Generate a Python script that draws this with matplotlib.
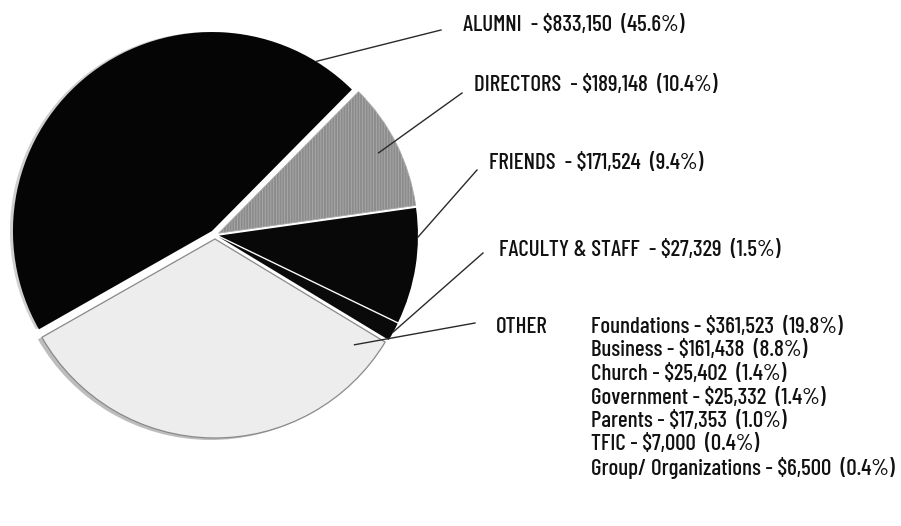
"""Gift sources pie: exploded pie with leader lines and a sub-list for OTHER."""
import matplotlib

matplotlib.use("Agg")
import matplotlib.pyplot as plt
import numpy as np
from matplotlib import font_manager
from matplotlib.patches import Wedge

# ---- data -------------------------------------------------------------------
main_labels = ["ALUMNI", "DIRECTORS", "FRIENDS", "FACULTY & STAFF"]
main_amounts = [833150, 189148, 171524, 27329]
main_pcts = [45.6, 10.4, 9.4, 1.5]

other_labels = ["Foundations", "Business", "Church", "Government",
                "Parents", "TFIC", "Group/ Organizations"]
other_amounts = [361523, 161438, 25402, 25332, 17353, 7000, 6500]
other_pcts = [19.8, 8.8, 1.4, 1.4, 1.0, 0.4, 0.4]

# ---- style ------------------------------------------------------------------
names = {f.name for f in font_manager.fontManager.ttflist}
family = next((f for f in ["Barlow Condensed", "Roboto Condensed", "Archivo Narrow",
                           "Asap Condensed"] if f in names), "DejaVu Sans")
plt.rcParams["font.family"] = [family, "DejaVu Sans"]
plt.rcParams["font.weight"] = "medium"
plt.rcParams["hatch.linewidth"] = 0.6

W, H = 901, 526
fig = plt.figure(figsize=(W / 100, H / 100), dpi=100)
ax = fig.add_axes([0, 0, 1, 1])

center = (215, H - 235)
radius = 199
sizes = main_amounts + [sum(other_amounts)]
colors = ["#050505", "#8c8c8c", "#080808", "#0a0a0a", "#ededed"]
explode = [5, 4, 4, 4, 4]  # pie offsets are in data units (pixels here)

wedges, _ = ax.pie(sizes, colors=colors, explode=explode, startangle=209.6,
                   counterclock=False, center=center, radius=radius, frame=True)

# Directors: fine vertical texture, lighter edge
wedges[1].set_hatch("||||||")
wedges[1].set_edgecolor("#ababab")
wedges[1].set_linewidth(0.6)
# Other: thin gray outline plus a gray rim (printed "thickness")
wedges[4].set_edgecolor("#8a8a8a")
wedges[4].set_linewidth(0.9)
for w, dx, dy, col in [(wedges[4], -4, -2, "#bdbdbd"), (wedges[0], -3, 0, "#cfcfcf")]:
    shadow = Wedge((w.center[0] + dx, w.center[1] + dy), w.r, w.theta1, w.theta2,
                   facecolor=col, edgecolor="none", zorder=w.get_zorder() - 0.5)
    ax.add_patch(shadow)

ax.set_xlim(0, W)
ax.set_ylim(0, H)
ax.set_aspect("equal")
ax.axis("off")

# ---- labels and leader lines --------------------------------------------------
fs = 16.5
text_pos = [(463, H - 25), (474, H - 85), (489, H - 163), (499, H - 250)]
line_end = [(441, H - 30), (462, H - 93), (477, H - 170), (483, H - 253)]
# anchor inside each wedge: (fraction along wedge angle, fraction of radius)
anchor = [(0.08, 1.0), (0.5, 0.9), (0.75, 1.0), (0.5, 1.0), (0.95, 0.88)]


def wedge_point(w, frac, rfrac):
    ang = np.deg2rad(w.theta1 + frac * (w.theta2 - w.theta1))
    return (w.center[0] + rfrac * w.r * np.cos(ang),
            w.center[1] + rfrac * w.r * np.sin(ang))


for i, (lab, amt, pct) in enumerate(zip(main_labels, main_amounts, main_pcts)):
    x0, y0 = wedge_point(wedges[i], *anchor[i])
    x1, y1 = line_end[i]
    ax.plot([x0, x1], [y0, y1], color="#2a2a2a", lw=1.0, zorder=5)
    ax.text(*text_pos[i], f"{lab}  - ${amt:,}  ({pct}%)", fontsize=fs,
            ha="left", va="center", color="#111111")

x0, y0 = wedge_point(wedges[4], *anchor[4])
ax.plot([x0, 475], [y0, H - 323], color="#2a2a2a", lw=1.0, zorder=5)
ax.text(496, H - 327, "OTHER", fontsize=fs, ha="left", va="center", color="#111111")
for j, (lab, amt, pct) in enumerate(zip(other_labels, other_amounts, other_pcts)):
    ax.text(591, H - 327 - 23.5 * j, f"{lab} - ${amt:,}  ({pct}%)", fontsize=fs,
            ha="left", va="center", color="#111111")

fig.savefig("out.png", dpi=100)
